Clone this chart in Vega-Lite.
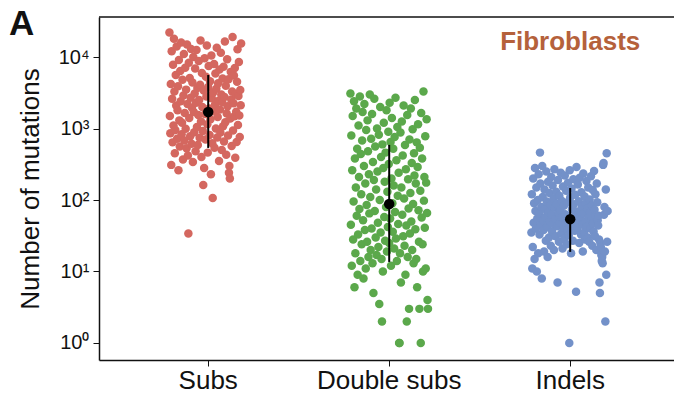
{
"$schema": "https://vega.github.io/schema/vega-lite/v6.json",
"width": 575, "height": 343,
"autosize": {"type": "none"},
"padding": {"left": 99, "top": 17, "right": 0, "bottom": 39},
"config": {"view": {"stroke": null}, "font": "Liberation Sans"},
"title": {"text": "A", "anchor": "start", "frame": "group", "fontSize": 35, "fontWeight": "bold", "font": "Liberation Sans", "color": "#111111", "dx": -90, "dy": 54, "baseline": "alphabetic", "offset": 0},
"datasets": {
"pts": [
{"c":"Subs","j":1,"n":22000},{"c":"Subs","j":2,"n":1500},{"c":"Subs","j":3,"n":860},{"c":"Subs","j":4,"n":4200},{"c":"Subs","j":5,"n":310},{"c":"Subs","j":6,"n":12000},{"c":"Subs","j":7,"n":2600},{"c":"Subs","j":8,"n":640},{"c":"Subs","j":9,"n":7800},{"c":"Subs","j":10,"n":1100},
{"c":"Subs","j":11,"n":18000},{"c":"Subs","j":12,"n":3300},{"c":"Subs","j":13,"n":450},{"c":"Subs","j":14,"n":950},{"c":"Subs","j":15,"n":5600},{"c":"Subs","j":16,"n":2100},{"c":"Subs","j":17,"n":14000},{"c":"Subs","j":18,"n":720},{"c":"Subs","j":19,"n":1800},{"c":"Subs","j":20,"n":3900},
{"c":"Subs","j":21,"n":260},{"c":"Subs","j":22,"n":9100},{"c":"Subs","j":23,"n":1300},{"c":"Subs","j":24,"n":560},{"c":"Subs","j":25,"n":6400},{"c":"Subs","j":26,"n":2400},{"c":"Subs","j":27,"n":16000},{"c":"Subs","j":28,"n":830},{"c":"Subs","j":29,"n":1200},{"c":"Subs","j":30,"n":4800},
{"c":"Subs","j":31,"n":370},{"c":"Subs","j":32,"n":2900},{"c":"Subs","j":33,"n":11000},{"c":"Subs","j":34,"n":680},{"c":"Subs","j":35,"n":1650},{"c":"Subs","j":36,"n":7100},{"c":"Subs","j":37,"n":990},{"c":"Subs","j":38,"n":3500},{"c":"Subs","j":39,"n":530},{"c":"Subs","j":40,"n":15000},
{"c":"Subs","j":41,"n":2200},{"c":"Subs","j":42,"n":420},{"c":"Subs","j":43,"n":34},{"c":"Subs","j":44,"n":8300},{"c":"Subs","j":45,"n":1400},{"c":"Subs","j":46,"n":5100},{"c":"Subs","j":47,"n":780},{"c":"Subs","j":48,"n":2700},{"c":"Subs","j":49,"n":13000},{"c":"Subs","j":50,"n":610},
{"c":"Subs","j":51,"n":1950},{"c":"Subs","j":52,"n":4400},{"c":"Subs","j":53,"n":340},{"c":"Subs","j":54,"n":10000},{"c":"Subs","j":55,"n":1700},{"c":"Subs","j":56,"n":890},{"c":"Subs","j":57,"n":3100},{"c":"Subs","j":58,"n":6900},{"c":"Subs","j":59,"n":480},{"c":"Subs","j":60,"n":2300},
{"c":"Subs","j":61,"n":12500},{"c":"Subs","j":62,"n":1050},{"c":"Subs","j":63,"n":3700},{"c":"Subs","j":64,"n":590},{"c":"Subs","j":65,"n":1550},{"c":"Subs","j":66,"n":8800},{"c":"Subs","j":67,"n":2500},{"c":"Subs","j":68,"n":740},{"c":"Subs","j":69,"n":4100},{"c":"Subs","j":70,"n":17000},
{"c":"Subs","j":71,"n":1250},{"c":"Subs","j":72,"n":400},{"c":"Subs","j":73,"n":6000},{"c":"Subs","j":74,"n":2000},{"c":"Subs","j":75,"n":920},{"c":"Subs","j":76,"n":162},{"c":"Subs","j":77,"n":3400},{"c":"Subs","j":78,"n":280},{"c":"Subs","j":79,"n":9600},{"c":"Subs","j":80,"n":1600},
{"c":"Subs","j":81,"n":700},{"c":"Subs","j":82,"n":5300},{"c":"Subs","j":83,"n":2800},{"c":"Subs","j":84,"n":14500},{"c":"Subs","j":85,"n":1150},{"c":"Subs","j":86,"n":460},{"c":"Subs","j":87,"n":3800},{"c":"Subs","j":88,"n":7500},{"c":"Subs","j":89,"n":1900},{"c":"Subs","j":90,"n":810},
{"c":"Subs","j":91,"n":4600},{"c":"Subs","j":92,"n":1350},{"c":"Subs","j":93,"n":230},{"c":"Subs","j":94,"n":10500},{"c":"Subs","j":95,"n":2650},{"c":"Subs","j":96,"n":620},{"c":"Subs","j":97,"n":107},{"c":"Subs","j":98,"n":3200},{"c":"Subs","j":99,"n":1750},{"c":"Subs","j":100,"n":8000},
{"c":"Subs","j":101,"n":540},{"c":"Subs","j":102,"n":2150},{"c":"Subs","j":103,"n":5900},{"c":"Subs","j":104,"n":1000},{"c":"Subs","j":105,"n":3600},{"c":"Subs","j":106,"n":13500},{"c":"Subs","j":107,"n":750},{"c":"Subs","j":108,"n":1450},{"c":"Subs","j":109,"n":4300},{"c":"Subs","j":110,"n":2450},
{"c":"Subs","j":111,"n":350},{"c":"Subs","j":112,"n":6700},{"c":"Subs","j":113,"n":1850},{"c":"Subs","j":114,"n":880},{"c":"Subs","j":115,"n":11500},{"c":"Subs","j":116,"n":3000},{"c":"Subs","j":117,"n":500},{"c":"Subs","j":118,"n":2350},{"c":"Subs","j":119,"n":5000},{"c":"Subs","j":120,"n":1080},
{"c":"Subs","j":121,"n":7300},{"c":"Subs","j":122,"n":660},{"c":"Subs","j":123,"n":2750},{"c":"Subs","j":124,"n":16500},{"c":"Subs","j":125,"n":1220},{"c":"Subs","j":126,"n":3950},{"c":"Subs","j":127,"n":430},{"c":"Subs","j":128,"n":1620},{"c":"Subs","j":129,"n":9300},{"c":"Subs","j":130,"n":2050},
{"c":"Subs","j":131,"n":800},{"c":"Subs","j":132,"n":4900},{"c":"Subs","j":133,"n":240},{"c":"Subs","j":134,"n":300},{"c":"Subs","j":135,"n":200},{"c":"Subs","j":136,"n":1380},{"c":"Subs","j":137,"n":6200},{"c":"Subs","j":138,"n":2550},{"c":"Subs","j":139,"n":570},{"c":"Subs","j":140,"n":3300},
{"c":"Subs","j":141,"n":19000},{"c":"Subs","j":142,"n":940},{"c":"Subs","j":143,"n":2250},{"c":"Subs","j":144,"n":5500},{"c":"Subs","j":145,"n":1480},{"c":"Subs","j":146,"n":7000},{"c":"Subs","j":147,"n":390},{"c":"Subs","j":148,"n":3050},{"c":"Subs","j":149,"n":1720},{"c":"Subs","j":150,"n":650},
{"c":"Subs","j":151,"n":4500},{"c":"Subs","j":152,"n":12800},{"c":"Subs","j":153,"n":1120},{"c":"Subs","j":154,"n":2850},{"c":"Subs","j":155,"n":8500},{"c":"Subs","j":156,"n":1520},{"c":"Subs","j":157,"n":760},{"c":"Subs","j":158,"n":3450},{"c":"Subs","j":159,"n":2120},{"c":"Subs","j":160,"n":15500},
{"c":"Double subs","j":1,"n":3100},{"c":"Double subs","j":2,"n":45},{"c":"Double subs","j":3,"n":800},{"c":"Double subs","j":4,"n":12},{"c":"Double subs","j":5,"n":260},{"c":"Double subs","j":6,"n":1500},{"c":"Double subs","j":7,"n":28},{"c":"Double subs","j":8,"n":95},{"c":"Double subs","j":9,"n":2400},{"c":"Double subs","j":10,"n":6},
{"c":"Double subs","j":11,"n":380},{"c":"Double subs","j":12,"n":18},{"c":"Double subs","j":13,"n":150},{"c":"Double subs","j":14,"n":1900},{"c":"Double subs","j":15,"n":60},{"c":"Double subs","j":16,"n":520},{"c":"Double subs","j":17,"n":9},{"c":"Double subs","j":18,"n":33},{"c":"Double subs","j":19,"n":1100},{"c":"Double subs","j":20,"n":210},
{"c":"Double subs","j":21,"n":75},{"c":"Double subs","j":22,"n":2800},{"c":"Double subs","j":23,"n":14},{"c":"Double subs","j":24,"n":440},{"c":"Double subs","j":25,"n":120},{"c":"Double subs","j":26,"n":24},{"c":"Double subs","j":27,"n":680},{"c":"Double subs","j":28,"n":1700},{"c":"Double subs","j":29,"n":52},{"c":"Double subs","j":30,"n":8},
{"c":"Double subs","j":31,"n":300},{"c":"Double subs","j":32,"n":2200},{"c":"Double subs","j":33,"n":38},{"c":"Double subs","j":34,"n":170},{"c":"Double subs","j":35,"n":11},{"c":"Double subs","j":36,"n":950},{"c":"Double subs","j":37,"n":85},{"c":"Double subs","j":38,"n":26},{"c":"Double subs","j":39,"n":1300},{"c":"Double subs","j":40,"n":480},
{"c":"Double subs","j":41,"n":16},{"c":"Double subs","j":42,"n":230},{"c":"Double subs","j":43,"n":65},{"c":"Double subs","j":44,"n":3000},{"c":"Double subs","j":45,"n":110},{"c":"Double subs","j":46,"n":20},{"c":"Double subs","j":47,"n":720},{"c":"Double subs","j":48,"n":40},{"c":"Double subs","j":49,"n":1600},{"c":"Double subs","j":50,"n":13},
{"c":"Double subs","j":51,"n":340},{"c":"Double subs","j":52,"n":5},{"c":"Double subs","j":53,"n":190},{"c":"Double subs","j":54,"n":2600},{"c":"Double subs","j":55,"n":70},{"c":"Double subs","j":56,"n":560},{"c":"Double subs","j":57,"n":30},{"c":"Double subs","j":58,"n":140},{"c":"Double subs","j":59,"n":17},{"c":"Double subs","j":60,"n":1000},
{"c":"Double subs","j":61,"n":250},{"c":"Double subs","j":62,"n":48},{"c":"Double subs","j":63,"n":22},{"c":"Double subs","j":64,"n":820},{"c":"Double subs","j":65,"n":3.5},{"c":"Double subs","j":66,"n":100},{"c":"Double subs","j":67,"n":2000},{"c":"Double subs","j":68,"n":35},{"c":"Double subs","j":69,"n":400},{"c":"Double subs","j":70,"n":15},
{"c":"Double subs","j":71,"n":2},{"c":"Double subs","j":72,"n":600},{"c":"Double subs","j":73,"n":10},{"c":"Double subs","j":74,"n":280},{"c":"Double subs","j":75,"n":1200},{"c":"Double subs","j":76,"n":58},{"c":"Double subs","j":77,"n":180},{"c":"Double subs","j":78,"n":27},{"c":"Double subs","j":79,"n":460},{"c":"Double subs","j":80,"n":80},
{"c":"Double subs","j":81,"n":1800},{"c":"Double subs","j":82,"n":19},{"c":"Double subs","j":83,"n":130},{"c":"Double subs","j":84,"n":42},{"c":"Double subs","j":85,"n":900},{"c":"Double subs","j":86,"n":320},{"c":"Double subs","j":87,"n":25},{"c":"Double subs","j":88,"n":2300},{"c":"Double subs","j":89,"n":55},{"c":"Double subs","j":90,"n":650},
{"c":"Double subs","j":91,"n":12},{"c":"Double subs","j":92,"n":200},{"c":"Double subs","j":93,"n":1400},{"c":"Double subs","j":94,"n":90},{"c":"Double subs","j":95,"n":36},{"c":"Double subs","j":96,"n":520},{"c":"Double subs","j":97,"n":160},{"c":"Double subs","j":98,"n":21},{"c":"Double subs","j":99,"n":760},{"c":"Double subs","j":100,"n":68},
{"c":"Double subs","j":101,"n":2700},{"c":"Double subs","j":102,"n":29},{"c":"Double subs","j":103,"n":360},{"c":"Double subs","j":104,"n":14},{"c":"Double subs","j":105,"n":1050},{"c":"Double subs","j":106,"n":115},{"c":"Double subs","j":107,"n":46},{"c":"Double subs","j":108,"n":240},{"c":"Double subs","j":109,"n":1},{"c":"Double subs","j":110,"n":1},
{"c":"Double subs","j":111,"n":18},{"c":"Double subs","j":112,"n":880},{"c":"Double subs","j":113,"n":7},{"c":"Double subs","j":114,"n":150},{"c":"Double subs","j":115,"n":1250},{"c":"Double subs","j":116,"n":62},{"c":"Double subs","j":117,"n":420},{"c":"Double subs","j":118,"n":31},{"c":"Double subs","j":119,"n":2100},{"c":"Double subs","j":120,"n":105},
{"c":"Double subs","j":121,"n":23},{"c":"Double subs","j":122,"n":590},{"c":"Double subs","j":123,"n":9},{"c":"Double subs","j":124,"n":270},{"c":"Double subs","j":125,"n":44},{"c":"Double subs","j":126,"n":2},{"c":"Double subs","j":127,"n":1550},{"c":"Double subs","j":128,"n":16},{"c":"Double subs","j":129,"n":195},{"c":"Double subs","j":130,"n":76},
{"c":"Double subs","j":131,"n":3},{"c":"Double subs","j":132,"n":700},{"c":"Double subs","j":133,"n":34},{"c":"Double subs","j":134,"n":125},{"c":"Double subs","j":135,"n":1900},{"c":"Double subs","j":136,"n":50},{"c":"Double subs","j":137,"n":330},{"c":"Double subs","j":138,"n":20},{"c":"Double subs","j":139,"n":980},{"c":"Double subs","j":140,"n":88},
{"c":"Double subs","j":141,"n":13},{"c":"Double subs","j":142,"n":450},{"c":"Double subs","j":143,"n":220},{"c":"Double subs","j":144,"n":2500},{"c":"Double subs","j":145,"n":39},{"c":"Double subs","j":146,"n":170},{"c":"Double subs","j":147,"n":15},{"c":"Double subs","j":148,"n":640},{"c":"Double subs","j":149,"n":6},{"c":"Double subs","j":150,"n":290},
{"c":"Double subs","j":151,"n":1150},{"c":"Double subs","j":152,"n":72},{"c":"Double subs","j":153,"n":26},{"c":"Double subs","j":154,"n":3},{"c":"Double subs","j":155,"n":540},{"c":"Double subs","j":156,"n":135},{"c":"Double subs","j":157,"n":1},{"c":"Double subs","j":158,"n":1650},{"c":"Double subs","j":159,"n":57},{"c":"Double subs","j":160,"n":380},
{"c":"Double subs","j":161,"n":24},{"c":"Double subs","j":162,"n":10},{"c":"Double subs","j":163,"n":3300},{"c":"Double subs","j":164,"n":98},{"c":"Double subs","j":165,"n":210},{"c":"Double subs","j":166,"n":41},{"c":"Double subs","j":167,"n":780},{"c":"Double subs","j":168,"n":11},{"c":"Double subs","j":169,"n":175},{"c":"Double subs","j":170,"n":1350},
{"c":"Double subs","j":171,"n":66},{"c":"Double subs","j":172,"n":4},{"c":"Double subs","j":173,"n":3},
{"c":"Indels","j":1,"n":35},{"c":"Indels","j":2,"n":120},{"c":"Indels","j":3,"n":11},{"c":"Indels","j":4,"n":22},{"c":"Indels","j":5,"n":200},{"c":"Indels","j":6,"n":48},{"c":"Indels","j":7,"n":90},{"c":"Indels","j":8,"n":15},{"c":"Indels","j":9,"n":280},{"c":"Indels","j":10,"n":70},
{"c":"Indels","j":11,"n":40},{"c":"Indels","j":12,"n":150},{"c":"Indels","j":13,"n":10},{"c":"Indels","j":14,"n":55},{"c":"Indels","j":15,"n":100},{"c":"Indels","j":16,"n":18},{"c":"Indels","j":17,"n":230},{"c":"Indels","j":18,"n":65},{"c":"Indels","j":19,"n":33},{"c":"Indels","j":20,"n":460},
{"c":"Indels","j":21,"n":170},{"c":"Indels","j":22,"n":45},{"c":"Indels","j":23,"n":80},{"c":"Indels","j":24,"n":8},{"c":"Indels","j":25,"n":300},{"c":"Indels","j":26,"n":110},{"c":"Indels","j":27,"n":52},{"c":"Indels","j":28,"n":38},{"c":"Indels","j":29,"n":19},{"c":"Indels","j":30,"n":140},
{"c":"Indels","j":31,"n":75},{"c":"Indels","j":32,"n":58},{"c":"Indels","j":33,"n":27},{"c":"Indels","j":34,"n":250},{"c":"Indels","j":35,"n":95},{"c":"Indels","j":36,"n":42},{"c":"Indels","j":37,"n":16},{"c":"Indels","j":38,"n":180},{"c":"Indels","j":39,"n":68},{"c":"Indels","j":40,"n":30},
{"c":"Indels","j":41,"n":125},{"c":"Indels","j":42,"n":50},{"c":"Indels","j":43,"n":85},{"c":"Indels","j":44,"n":23},{"c":"Indels","j":45,"n":210},{"c":"Indels","j":46,"n":62},{"c":"Indels","j":47,"n":36},{"c":"Indels","j":48,"n":160},{"c":"Indels","j":49,"n":46},{"c":"Indels","j":50,"n":105},
{"c":"Indels","j":51,"n":20},{"c":"Indels","j":52,"n":270},{"c":"Indels","j":53,"n":78},{"c":"Indels","j":54,"n":54},{"c":"Indels","j":55,"n":31},{"c":"Indels","j":56,"n":130},{"c":"Indels","j":57,"n":88},{"c":"Indels","j":58,"n":43},{"c":"Indels","j":59,"n":7},{"c":"Indels","j":60,"n":190},
{"c":"Indels","j":61,"n":66},{"c":"Indels","j":62,"n":26},{"c":"Indels","j":63,"n":115},{"c":"Indels","j":64,"n":49},{"c":"Indels","j":65,"n":72},{"c":"Indels","j":66,"n":240},{"c":"Indels","j":67,"n":34},{"c":"Indels","j":68,"n":98},{"c":"Indels","j":69,"n":57},{"c":"Indels","j":70,"n":21},
{"c":"Indels","j":71,"n":155},{"c":"Indels","j":72,"n":41},{"c":"Indels","j":73,"n":83},{"c":"Indels","j":74,"n":29},{"c":"Indels","j":75,"n":220},{"c":"Indels","j":76,"n":63},{"c":"Indels","j":77,"n":47},{"c":"Indels","j":78,"n":135},{"c":"Indels","j":79,"n":24},{"c":"Indels","j":80,"n":92},
{"c":"Indels","j":81,"n":38},{"c":"Indels","j":82,"n":175},{"c":"Indels","j":83,"n":59},{"c":"Indels","j":84,"n":32},{"c":"Indels","j":85,"n":1},{"c":"Indels","j":86,"n":260},{"c":"Indels","j":87,"n":108},{"c":"Indels","j":88,"n":51},{"c":"Indels","j":89,"n":18},{"c":"Indels","j":90,"n":145},
{"c":"Indels","j":91,"n":74},{"c":"Indels","j":92,"n":44},{"c":"Indels","j":93,"n":27},{"c":"Indels","j":94,"n":195},{"c":"Indels","j":95,"n":87},{"c":"Indels","j":96,"n":56},{"c":"Indels","j":97,"n":37},{"c":"Indels","j":98,"n":118},{"c":"Indels","j":99,"n":69},{"c":"Indels","j":100,"n":5.2},
{"c":"Indels","j":101,"n":290},{"c":"Indels","j":102,"n":61},{"c":"Indels","j":103,"n":39},{"c":"Indels","j":104,"n":165},{"c":"Indels","j":105,"n":48},{"c":"Indels","j":106,"n":96},{"c":"Indels","j":107,"n":25},{"c":"Indels","j":108,"n":205},{"c":"Indels","j":109,"n":71},{"c":"Indels","j":110,"n":53},
{"c":"Indels","j":111,"n":33},{"c":"Indels","j":112,"n":128},{"c":"Indels","j":113,"n":81},{"c":"Indels","j":114,"n":45},{"c":"Indels","j":115,"n":19},{"c":"Indels","j":116,"n":235},{"c":"Indels","j":117,"n":64},{"c":"Indels","j":118,"n":35},{"c":"Indels","j":119,"n":112},{"c":"Indels","j":120,"n":28},
{"c":"Indels","j":121,"n":89},{"c":"Indels","j":122,"n":50},{"c":"Indels","j":123,"n":185},{"c":"Indels","j":124,"n":42},{"c":"Indels","j":125,"n":76},{"c":"Indels","j":126,"n":30},{"c":"Indels","j":127,"n":150},{"c":"Indels","j":128,"n":58},{"c":"Indels","j":129,"n":26},{"c":"Indels","j":130,"n":102},
{"c":"Indels","j":131,"n":67},{"c":"Indels","j":132,"n":40},{"c":"Indels","j":133,"n":215},{"c":"Indels","j":134,"n":55},{"c":"Indels","j":135,"n":84},{"c":"Indels","j":136,"n":23},{"c":"Indels","j":137,"n":138},{"c":"Indels","j":138,"n":47},{"c":"Indels","j":139,"n":36},{"c":"Indels","j":140,"n":255},
{"c":"Indels","j":141,"n":73},{"c":"Indels","j":142,"n":31},{"c":"Indels","j":143,"n":120},{"c":"Indels","j":144,"n":60},{"c":"Indels","j":145,"n":20},{"c":"Indels","j":146,"n":170},{"c":"Indels","j":147,"n":93},{"c":"Indels","j":148,"n":52},{"c":"Indels","j":149,"n":44},{"c":"Indels","j":150,"n":60},
{"c":"Indels","j":151,"n":28},{"c":"Indels","j":152,"n":7},{"c":"Indels","j":153,"n":5},{"c":"Indels","j":154,"n":25},{"c":"Indels","j":155,"n":22},{"c":"Indels","j":156,"n":17},{"c":"Indels","j":157,"n":14},{"c":"Indels","j":158,"n":16},{"c":"Indels","j":159,"n":13},{"c":"Indels","j":160,"n":310},
{"c":"Indels","j":161,"n":330},{"c":"Indels","j":162,"n":62},{"c":"Indels","j":163,"n":80},{"c":"Indels","j":164,"n":19},{"c":"Indels","j":165,"n":2},{"c":"Indels","j":166,"n":140},{"c":"Indels","j":167,"n":9},{"c":"Indels","j":168,"n":450},{"c":"Indels","j":169,"n":26},{"c":"Indels","j":170,"n":70}
],
"stats": [
{"c":"Subs","mean":1700,"lo":535,"hi":5600},
{"c":"Double subs","mean":88,"lo":13.6,"hi":590},
{"c":"Indels","mean":54,"lo":18.8,"hi":147}
],
"lab": [{"c":"Indels","n":16200,"t":"Fibroblasts"}]
},
"layer": [
{
"data": {"name": "pts"},
"mark": {"type": "circle", "size": 72, "opacity": 1},
"encoding": {
"x": {"field": "c", "type": "nominal", "title": null,
"scale": {"domain": ["Subs", "Double subs", "Indels"], "paddingInner": 0.569, "paddingOuter": 0.373, "align": 0.52},
"axis": {"labelAngle": 0, "labelFontSize": 26, "labelColor": "#111111", "labelFont": "Liberation Sans", "tickSize": 6, "tickColor": "#111111", "domainColor": "#111111", "domainWidth": 1.5, "labelPadding": 1, "grid": false}},
"xOffset": {"field": "j", "type": "ordinal"},
"y": {"field": "n", "type": "quantitative", "title": "Number of mutations",
"scale": {"type": "log", "domain": [0.578, 36300], "nice": false},
"axis": {"values": [1, 10, 100, 1000, 10000], "labelExpr": "'10' + ['⁰','¹','²','³','⁴'][round(log(datum.value)/LN10)]", "labelFontSize": 20, "labelColor": "#111111", "labelFont": "Liberation Sans", "titleFontSize": 26, "titleFontWeight": "normal", "titleColor": "#111111", "titleFont": "Liberation Sans", "titlePadding": 15, "tickSize": 6, "tickColor": "#111111", "domainColor": "#111111", "domainWidth": 1.5, "labelPadding": 4, "grid": false}},
"color": {"field": "c", "type": "nominal", "legend": null,
"scale": {"domain": ["Subs", "Double subs", "Indels"], "range": ["#D4675F", "#5BA84B", "#7391C9"]}}
}
},
{
"data": {"name": "stats"},
"mark": {"type": "rule", "strokeWidth": 2, "color": "#000000"},
"encoding": {
"x": {"field": "c", "type": "nominal"},
"y": {"field": "lo", "type": "quantitative"},
"y2": {"field": "hi"}
}
},
{
"data": {"name": "stats"},
"mark": {"type": "circle", "size": 110, "color": "#000000", "opacity": 1},
"encoding": {
"x": {"field": "c", "type": "nominal"},
"y": {"field": "mean", "type": "quantitative"}
}
},
{
"data": {"name": "lab"},
"mark": {"type": "text", "fontSize": 26, "fontWeight": "bold", "color": "#B5613B", "font": "Liberation Sans"},
"encoding": {
"x": {"field": "c", "type": "nominal"},
"y": {"field": "n", "type": "quantitative"},
"text": {"field": "t"}
}
},
{
"data": {"values": [{}]},
"mark": {"type": "rule", "strokeWidth": 1.5, "color": "#111111"},
"encoding": {
"y": {"datum": 36300}
}
}
]
}
